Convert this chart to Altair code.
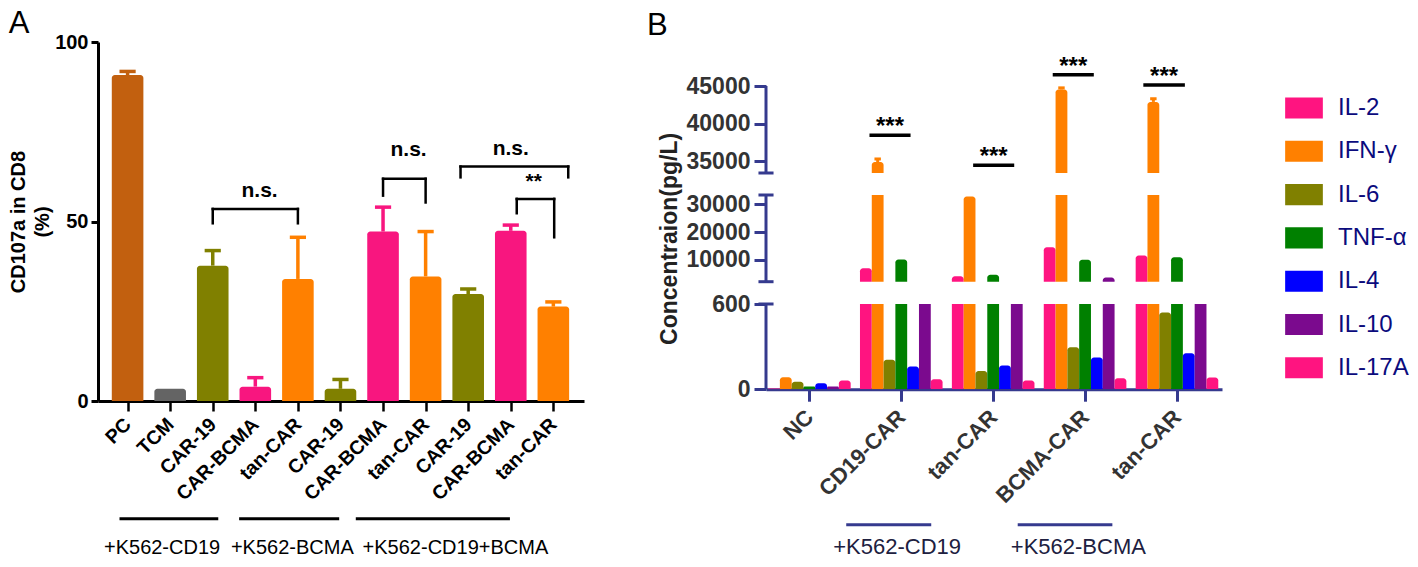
import json
import altair as alt
import pandas as pd

FONT = "Liberation Sans"
NAVY = "#353A8E"

# ---------------- Panel A data ----------------
a_labels = ["PC", "TCM", "CAR-19", "CAR-BCMA", "tan-CAR", "CAR-19",
            "CAR-BCMA", "tan-CAR", "CAR-19", "CAR-BCMA", "tan-CAR"]
a_means = [90.8, 3.4, 37.7, 4.0, 34.0, 3.4, 47.2, 34.7, 29.8, 47.4, 26.3]
a_errs = [1.0, 0.0, 4.2, 2.5, 11.6, 2.6, 6.8, 12.5, 1.4, 1.6, 1.3]
a_colors = ["#C2600F", "#646464", "#808000", "#F8167F", "#FF8000", "#808000",
            "#F8167F", "#FF8000", "#808000", "#F8167F", "#FF8000"]

a_brk_left = [2.0, 6.0, 7.82, 9.14]
a_brk_right = [4.0, 7.0, 10.35, 10.02]
a_brk_top = [53.5, 61.9, 65.3, 56.3]
a_brk_left_end = [49.5, 57.2, 62.3, 52.3]
a_brk_right_end = [49.5, 55.3, 62.3, 45.6]
a_sig_text = ["n.s.", "n.s.", "n.s.", "**"]
a_sig_x = [3.1, 6.6, 9.0, 9.54]
a_sig_y = [58.6, 69.8, 70.2, 61.0]

a_grp_names = ["+K562-CD19", "+K562-BCMA", "+K562-CD19+BCMA"]
a_grp_start = [-0.19, 2.62, 5.36]
a_grp_end = [2.13, 4.97, 8.98]
a_grp_center = [0.81, 3.87, 7.70]

# ---------------- Panel B data ----------------
b_groups = ["NC", "CD19-CAR", "tan-CAR", "BCMA-CAR", "tan-CAR"]
b_cytokines = ["IL-2", "IFN-γ", "IL-6", "TNF-α", "IL-4", "IL-10", "IL-17A"]
b_colors = ["#FF1480", "#FF8000", "#808000", "#008000", "#0000FF", "#7B0A8E", "#FF1480"]
b_il2 = [5, 7000, 4100, 14580, 11590]
b_ifng = [84, 34870, 32900, 44550, 42880]
b_il6 = [52, 207, 129, 295, 541]
b_tnfa = [19, 10100, 4600, 10000, 10970]
b_il4 = [42, 160, 167, 223, 253]
b_il10 = [19, 1200, 1200, 3640, 1200]
b_il17a = [61, 70, 61, 77, 82]
b_ifng_err = [0, 400, 0, 200, 420]

b_sig_group = [1, 2, 3, 4]
b_sig_left = [-0.346, -0.218, -0.352, -0.366]
b_sig_right = [0.101, 0.229, 0.095, 0.086]
b_sig_y = [38430, 34430, 46500, 45130]
b_sig_star_y = [40330, 36330, 48290, 46960]
b_sig_text = ["***", "***", "***", "***"]

b_grp_names = ["+K562-CD19", "+K562-BCMA"]
b_grp_start = [0.401, 2.267]
b_grp_end = [1.326, 3.297]
b_grp_center = [0.955, 2.927]

# ======================= Panel A =======================
HALF_A = 0.371
CAP_A = 0.19
YTITLE_A = ["CD107a in CD8", "(%)"]
xsA = alt.Scale(domain=[-0.695, 10.72], nice=False, zero=False)
ysA = alt.Scale(domain=[0, 100], nice=False, zero=False)

dfA = pd.DataFrame({"i": list(range(len(a_labels))), "label": a_labels,
                    "mean": a_means, "err": a_errs, "color": a_colors})

xaxisA = alt.Axis(values=list(range(len(a_labels))),
                  labelExpr=json.dumps(a_labels) + "[datum.value]",
                  title=None, labelAngle=-45, labelAlign="right", labelBaseline="middle",
                  labelOverlap=False,
                  labelFontSize=19.5, labelFontWeight="bold", labelColor="black",
                  labelPadding=10, tickSize=10, tickWidth=2.5, tickColor="black",
                  domainColor="black", domainWidth=3, grid=False)
yaxisA = alt.Axis(values=[0, 50, 100], title=YTITLE_A,
                  titleFontSize=20, titleFontWeight="bold", titleColor="black",
                  titleLineHeight=24, titlePadding=2,
                  labelFontSize=20, labelFontWeight="bold", labelColor="black",
                  labelPadding=3, tickSize=7, tickWidth=3, tickColor="black",
                  domainColor="black", domainWidth=3, grid=False)

baseA = alt.Chart(dfA).transform_calculate(
    xl=f"datum.i - {HALF_A}", xr=f"datum.i + {HALF_A}",
    top="datum.mean + datum.err",
    cl=f"datum.i - {CAP_A}", cr=f"datum.i + {CAP_A}")

barsA = baseA.mark_bar(cornerRadiusTopLeft=3, cornerRadiusTopRight=3).encode(
    x=alt.X("xl:Q", scale=xsA, axis=xaxisA),
    x2="xr:Q",
    y=alt.Y("mean:Q", scale=ysA, axis=yaxisA),
    y2=alt.datum(0),
    color=alt.Color("color:N", scale=None),
)
stemA = baseA.transform_filter("datum.err > 0").mark_rule(strokeWidth=3.5).encode(
    x=alt.X("i:Q", scale=xsA, title=None),
    y=alt.Y("mean:Q", scale=ysA, title=YTITLE_A),
    y2="top:Q",
    color=alt.Color("color:N", scale=None),
)
capA = baseA.transform_filter("datum.err > 0").mark_rule(strokeWidth=3.5).encode(
    x=alt.X("cl:Q", scale=xsA, title=None),
    x2="cr:Q",
    y=alt.Y("top:Q", scale=ysA, title=YTITLE_A),
    color=alt.Color("color:N", scale=None),
)

seg_rows = []
for L, R, T, le, re in zip(a_brk_left, a_brk_right, a_brk_top, a_brk_left_end, a_brk_right_end):
    seg_rows.append({"x": L, "x2": L, "y": le, "y2": T})
    seg_rows.append({"x": L, "x2": R, "y": T, "y2": T})
    seg_rows.append({"x": R, "x2": R, "y": re, "y2": T})
brkA = alt.Chart(pd.DataFrame(seg_rows)).mark_rule(
    color="black", strokeWidth=2.5, strokeCap="square").encode(
    x=alt.X("x:Q", scale=xsA, title=None), x2="x2:Q",
    y=alt.Y("y:Q", scale=ysA, title=YTITLE_A), y2="y2:Q")

sigA_df = pd.DataFrame({"x": a_sig_x, "y": a_sig_y, "t": a_sig_text})
sigA = alt.Chart(sigA_df).mark_text(fontSize=21, fontWeight="bold", color="black",
                                    baseline="middle", font=FONT).encode(
    x=alt.X("x:Q", scale=xsA, title=None),
    y=alt.Y("y:Q", scale=ysA, title=YTITLE_A),
    text="t:N")

grpA_df = pd.DataFrame({"s": a_grp_start, "e": a_grp_end, "c": a_grp_center, "name": a_grp_names})
grpLineA = alt.Chart(grpA_df).mark_rule(color="black", strokeWidth=3).encode(
    x=alt.X("s:Q", scale=xsA, title=None), x2="e:Q", y=alt.datum(-32.8))
grpTextA = alt.Chart(grpA_df).mark_text(fontSize=20, color="black", baseline="middle",
                                        font=FONT).encode(
    x=alt.X("c:Q", scale=xsA, title=None), y=alt.datum(-41.0), text="name:N")

panelA = alt.layer(barsA, stemA, capA, brkA, sigA, grpLineA, grpTextA).properties(
    width=486, height=359,
    title=alt.TitleParams(text="A", anchor="start", frame="bounds", fontSize=31,
                          fontWeight="normal", font=FONT, color="black", offset=-8))

# ======================= Panel B =======================
BW = 0.1284
XMIN_B, XMAX_B = -0.472, 4.49
CAPB = 0.082
xsB = alt.Scale(domain=[XMIN_B, XMAX_B], nice=False, zero=False)

rows = []
series = [b_il2, b_ifng, b_il6, b_tnfa, b_il4, b_il10, b_il17a]
for k, (name, vals) in enumerate(zip(b_cytokines, series)):
    for g, v in enumerate(vals):
        rows.append({"g": g, "k": k, "cytokine": name, "value": v})
dfB = pd.DataFrame(rows)

errB_df = pd.DataFrame({"g": list(range(len(b_groups))), "value": b_ifng, "err": b_ifng_err})
sigB_df = pd.DataFrame({"g": b_sig_group, "l": b_sig_left, "r": b_sig_right,
                        "y": b_sig_y, "sy": b_sig_star_y, "t": b_sig_text})
grpB_df = pd.DataFrame({"s": b_grp_start, "e": b_grp_end, "c": b_grp_center, "name": b_grp_names})

legendB = alt.Legend(title=None, orient="none", legendX=1187, legendY=47, direction="vertical",
                     symbolType="M-1,-0.56H1V0.56H-1Z", symbolSize=1421,
                     symbolStrokeWidth=0, symbolOpacity=1,
                     labelFontSize=24, labelFont=FONT, labelColor="#0B0B7D",
                     labelOffset=15, rowPadding=12.3, padding=0)
colorB = alt.Color("cytokine:N", scale=alt.Scale(domain=b_cytokines, range=b_colors),
                   legend=legendB)


def segment(lo, hi, height, ticks, axis_lo, axis_hi, caps, title=None, bottom=False, top=False):
    ys = alt.Scale(domain=[lo, hi], nice=False, zero=False)
    yaxis = alt.Axis(values=ticks, format="d", domain=False, tickSize=12, tickWidth=3,
                     tickColor=NAVY, labelFontSize=23, labelFontWeight="bold",
                     labelColor="#333333", labelPadding=4, labelFont=FONT,
                     title=title, titleFontSize=23, titleFontWeight="bold",
                     titleColor="#222222", titlePadding=5, titleFont=FONT, grid=False)
    if bottom:
        xaxis = alt.Axis(values=list(range(len(b_groups))),
                         labelExpr=json.dumps(b_groups) + "[datum.value]",
                         title=None, labelAngle=-45, labelAlign="right", labelBaseline="middle",
                         labelOverlap=False,
                         labelFontSize=22, labelFontWeight="bold", labelColor="#333333",
                         labelPadding=12, tickSize=12, tickWidth=3, tickColor=NAVY,
                         domainColor=NAVY, domainWidth=3, grid=False, labelFont=FONT)
    else:
        xaxis = None
    bars = alt.Chart(dfB).transform_calculate(
        xl=f"datum.g + (datum.k - 3) * {BW} - {BW / 2}",
        xr=f"datum.g + (datum.k - 3) * {BW} + {BW / 2}",
    ).mark_bar(clip=True, cornerRadiusTopLeft=3, cornerRadiusTopRight=3).encode(
        x=alt.X("xl:Q", scale=xsB, axis=xaxis),
        x2="xr:Q",
        y=alt.Y("value:Q", scale=ys, axis=yaxis),
        y2=alt.datum(0),
        color=colorB,
    )
    layers = [bars]
    ax_df = pd.DataFrame({"a": [axis_lo], "b": [axis_hi]})
    layers.append(alt.Chart(ax_df).mark_rule(color=NAVY, strokeWidth=3).encode(
        x=alt.datum(XMIN_B), y=alt.Y("a:Q", scale=ys, title=title), y2="b:Q"))
    if caps:
        cap_df = pd.DataFrame({"c": caps})
        layers.append(alt.Chart(cap_df).mark_rule(color=NAVY, strokeWidth=3).encode(
            x=alt.datum(XMIN_B - CAPB), x2=alt.datum(XMIN_B + CAPB),
            y=alt.Y("c:Q", scale=ys, title=title)))
    if top:
        eb = alt.Chart(errB_df).transform_filter("datum.err > 0").transform_calculate(
            xc=f"datum.g - 2 * {BW}", cl=f"datum.g - 2 * {BW} - 0.035",
            cr=f"datum.g - 2 * {BW} + 0.035", t="datum.value + datum.err")
        layers.append(eb.mark_rule(color="#FF8000", strokeWidth=3).encode(
            x=alt.X("xc:Q", scale=xsB, title=None),
            y=alt.Y("value:Q", scale=ys, title=title), y2="t:Q"))
        layers.append(eb.mark_rule(color="#FF8000", strokeWidth=3).encode(
            x=alt.X("cl:Q", scale=xsB, title=None), x2="cr:Q",
            y=alt.Y("t:Q", scale=ys, title=title)))
        sb = alt.Chart(sigB_df).transform_calculate(
            xl="datum.g + datum.l", xr="datum.g + datum.r",
            xm="datum.g + (datum.l + datum.r) / 2")
        layers.append(sb.mark_rule(color="black", strokeWidth=3.5).encode(
            x=alt.X("xl:Q", scale=xsB, title=None), x2="xr:Q",
            y=alt.Y("y:Q", scale=ys, title=title)))
        layers.append(sb.mark_text(fontSize=24, fontWeight="bold", color="black",
                                   baseline="middle", dy=6, font=FONT).encode(
            x=alt.X("xm:Q", scale=xsB, title=None),
            y=alt.Y("sy:Q", scale=ys, title=title), text="t:N"))
    if bottom:
        layers.append(alt.Chart(grpB_df).mark_rule(color=NAVY, strokeWidth=3).encode(
            x=alt.X("s:Q", scale=xsB, title=None), x2="e:Q", y=alt.datum(-954)))
        layers.append(alt.Chart(grpB_df).mark_text(fontSize=22, color="#202040",
                                                   baseline="middle", font=FONT).encode(
            x=alt.X("c:Q", scale=xsB, title=None), y=alt.datum(-1110), text="name:N"))
    return alt.layer(*layers).properties(width=456, height=height)


segTop = segment(33400, 50867, 131, [35000, 40000, 45000], 33400, 45000, [33400], top=True)
segMid = segment(2100, 33400, 86.7, [10000, 20000, 30000], 2100, 33400, [2100, 33400],
                 title="Concentraion(pg/L)")
segBot = segment(0, 600, 85.2, [0, 200, 400, 600], 0, 600, [600], bottom=True)

panelB = alt.vconcat(segTop, segMid, segBot, spacing=22, bounds="flush").properties(
    title=alt.TitleParams(text="B", anchor="start", frame="bounds", fontSize=31,
                          fontWeight="normal", font=FONT, color="black", offset=0, dx=-11))

chart = alt.hconcat(panelA, panelB, spacing=63).properties(padding=0).configure(
    font=FONT).configure_view(stroke=None).configure_axis(grid=False)

chart.save("out.html", embed_options={"renderer": "svg", "actions": False})
